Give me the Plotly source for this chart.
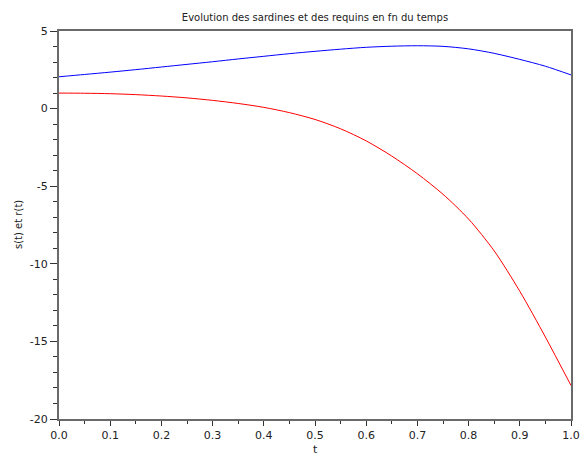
import plotly.graph_objects as go

t = [0.0, 0.05, 0.1, 0.15, 0.2, 0.25, 0.3, 0.35, 0.4, 0.45, 0.5,
     0.55, 0.6, 0.65, 0.7, 0.75, 0.8, 0.85, 0.9, 0.95, 1.0]
s_vals = [2.05, 2.2, 2.35, 2.51, 2.68, 2.85, 3.02, 3.2, 3.37, 3.54, 3.69,
          3.83, 3.95, 4.02, 4.05, 4.01, 3.85, 3.56, 3.17, 2.73, 2.17]
r_vals = [1.0, 0.99, 0.96, 0.90, 0.81, 0.69, 0.53, 0.33, 0.08, -0.26, -0.70,
          -1.30, -2.08, -3.06, -4.20, -5.52, -7.12, -9.17, -11.77, -14.72, -17.84]

y_tickvals = [5, 0, -5, -10, -15, -20]
y_ticktext = ["5", "0", "-5", "-10", "-15", "-20"]

title_text = "Evolution des sardines et des requins en fn du temps"
xlabel = "t"
ylabel = "s(t) et r(t)"

fig = go.Figure()
fig.add_trace(go.Scatter(x=t, y=s_vals, mode="lines",
                         line=dict(color="#0000ff", width=1, shape="spline", smoothing=0.8)))
fig.add_trace(go.Scatter(x=t, y=r_vals, mode="lines",
                         line=dict(color="#ff0000", width=1, shape="spline", smoothing=0.8)))

font = "DejaVu Sans, sans-serif"
txtcol = "#222222"
axis_common = dict(
    showline=True, mirror=True, linecolor="#6a6a6a", linewidth=2,
    ticks="outside", tickwidth=1, tickcolor="#333333",
    showgrid=False, zeroline=False, automargin=False,
    tickfont=dict(family=font, size=11, color=txtcol),
)
fig.update_layout(
    width=581, height=455,
    margin=dict(l=59, r=10, t=31, b=36),
    paper_bgcolor="white", plot_bgcolor="white",
    showlegend=False,
    title=dict(text=title_text, x=0.5, xref="paper", y=1 - 17 / 455, yref="container",
               xanchor="center", yanchor="middle",
               font=dict(family=font, size=10, color=txtcol)),
    xaxis=dict(range=[0, 1], dtick=0.1, tick0=0, tickformat=".1f", ticklen=5,
               minor=dict(dtick=0.05, ticks="outside", ticklen=3, tickcolor="#333333"),
               **axis_common),
    yaxis=dict(range=[-20, 5], tickmode="array", tickvals=y_tickvals, ticktext=y_ticktext,
               ticklen=7,
               minor=dict(dtick=1, tick0=0, ticks="outside", ticklen=4, tickcolor="#333333"),
               **axis_common),
    annotations=[
        dict(text=xlabel, xref="paper", x=0.5, yref="paper", y=-30 / 388,
             xanchor="center", yanchor="middle", showarrow=False,
             font=dict(family=font, size=11, color=txtcol)),
        dict(text=ylabel, xref="paper", x=-41 / 512, yref="paper", y=0.5,
             xanchor="center", yanchor="middle", showarrow=False, textangle=-90,
             font=dict(family=font, size=10, color=txtcol)),
    ],
)
fig.write_html("out.html")
